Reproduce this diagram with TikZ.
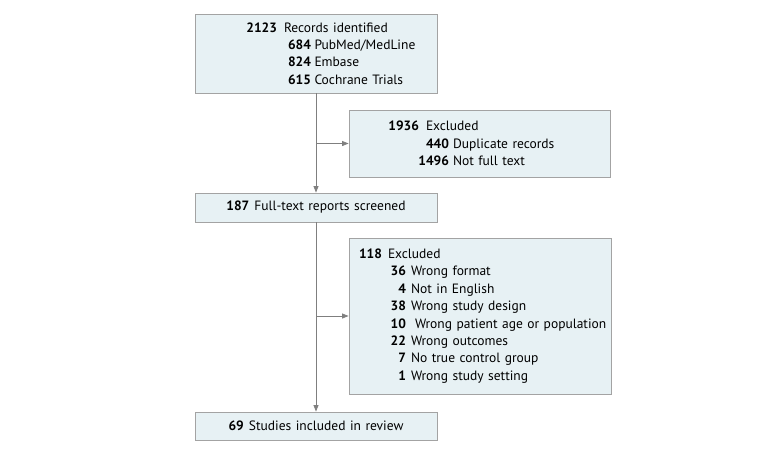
\documentclass[tikz,border=0pt]{standalone}
\usepackage{fontspec}
\setmainfont{PT Sans}
\usetikzlibrary{arrows.meta}
\definecolor{boxfill}{HTML}{E7F1F4}
\definecolor{boxline}{HTML}{A3A3A3}
\definecolor{arrline}{HTML}{7F7F7F}
% number right edge at #1pt from the box edge, gap #2pt, then the label
\newcommand{\cntline}[4]{\hspace*{#1pt}\llap{\bfseries #3}\hspace*{#2pt}#4}

\begin{document}
\begin{tikzpicture}[x=1pt, y=-1pt,
        box/.style={rectangle, draw=boxline, fill=boxfill, line width=0.8pt,
                    inner xsep=0pt, inner ysep=0pt, text width=#1pt, minimum width=#1pt,
                    align=left, font=\fontsize{13.5}{17.4}\selectfont},
        arr/.style={-{Triangle[length=6.5pt,width=5pt]}, line width=0.8pt, arrline}]
      \useasboundingbox (0,0) rectangle (780,455);
      \node[box=242, minimum height=79pt] (rec) at (316,53.5)
        {\cntline{82}{7}{2123}{Records identified}\\
         \cntline{116}{3.5}{684}{PubMed/MedLine}\\
         \cntline{116}{3.5}{824}{Embase}\\
         \cntline{116}{3.5}{615}{Cochrane Trials}};
      \node[box=261, minimum height=67pt] (exc1) at (479.5,143.5)
        {\cntline{70}{7}{1936}{Excluded}\\
         \cntline{100}{4}{440}{Duplicate records}\\
         \cntline{100}{4}{1496}{Not full text}};
      \node[box=242, minimum height=29pt, align=center] (full) at (316,207.5)
        {\textbf{187}\hspace{5pt}Full-text reports screened};
      \node[box=262, minimum height=156pt] (exc2) at (480,316)
        {\cntline{33}{6}{118}{Excluded}\\
         \cntline{57}{5}{36}{Wrong format}\\
         \cntline{57}{5}{4}{Not in English}\\
         \cntline{57}{5}{38}{Wrong study design}\\
         \cntline{57}{9}{10}{Wrong patient age or population}\\
         \cntline{57}{5}{22}{Wrong outcomes}\\
         \cntline{57}{5}{7}{No true control group}\\
         \cntline{57}{5}{1}{Wrong study setting}};
      \node[box=242, minimum height=28pt, align=center] (incl) at (316,426)
        {\textbf{69}\hspace{5pt}Studies included in review};
      \draw[arr] (rec.south) -- (full.north);
      \draw[arr] (rec.south |- exc1.west) -- (exc1.west);
      \draw[arr] (full.south) -- (incl.north);
      \draw[arr] (full.south |- exc2.west) -- (exc2.west);
    \end{tikzpicture}
\end{document}
